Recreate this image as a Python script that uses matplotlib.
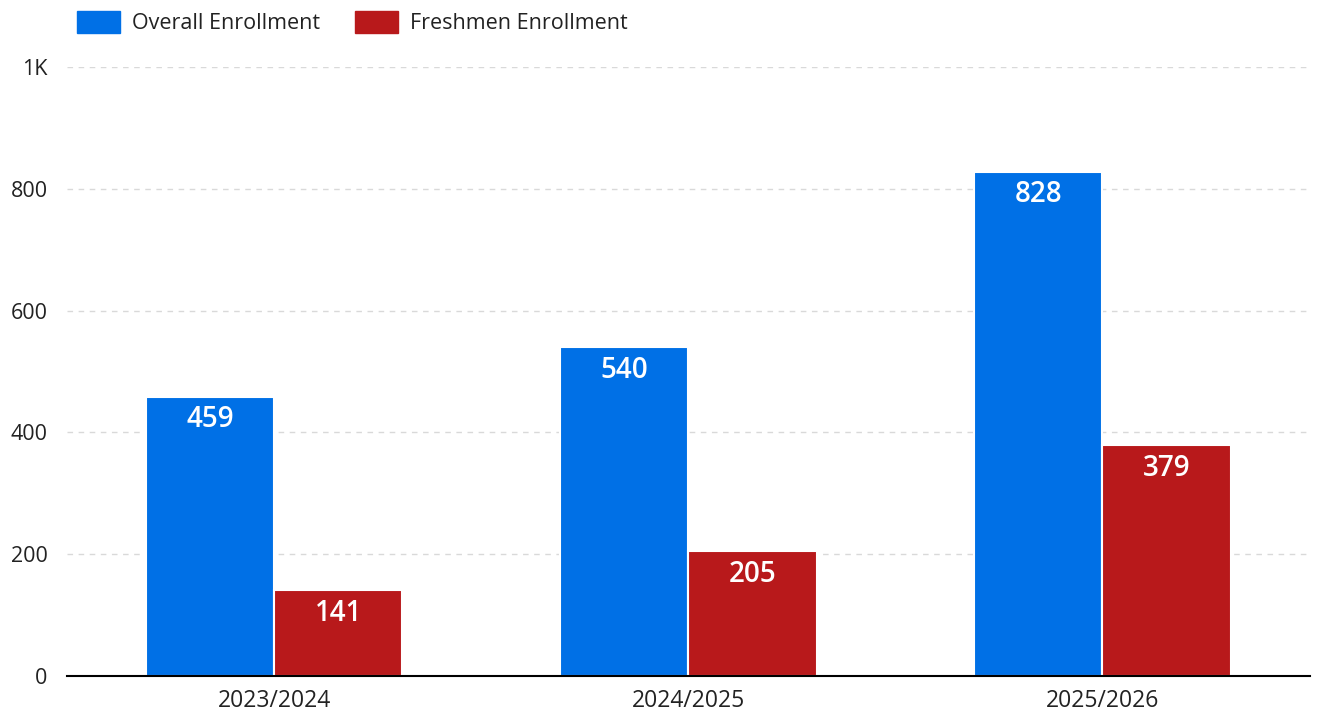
import matplotlib.pyplot as plt
import numpy as np
from matplotlib.patches import Patch
from matplotlib.ticker import FuncFormatter

plt.rcParams['font.family'] = ['Open Sans', 'Noto Sans', 'DejaVu Sans']

years = ['2023/2024', '2024/2025', '2025/2026']
overall = [459, 540, 828]
freshmen = [141, 205, 379]

blue = '#0070E6'
red = '#B8191B'


def fmt(v, pos):
    if v >= 1000:
        return '%dK' % (v / 1000)
    return '%d' % v


def main():
    fig = plt.figure(figsize=(13.18, 7.15), dpi=100)
    ax = fig.add_axes([0.0508, 0.0545, 0.9428, 0.8517])

    x = np.arange(len(years))
    w = 0.31
    b1 = ax.bar(x - w / 2, overall, w, color=blue, edgecolor='white', linewidth=1.5, zorder=3)
    b2 = ax.bar(x + w / 2, freshmen, w, color=red, edgecolor='white', linewidth=1.5, zorder=3)

    # value labels inside top of bars
    for bars, vals in ((b1, overall), (b2, freshmen)):
        for r, v in zip(bars, vals):
            ax.annotate(str(v), (r.get_x() + r.get_width() / 2, v), xytext=(0, -23),
                        textcoords='offset pixels', ha='center', va='center',
                        color='white', fontsize=20, fontweight='semibold', zorder=4)

    ax.set_xlim(-0.5, 2.5)
    ax.set_ylim(0, 1000)
    ax.set_yticks([0, 200, 400, 600, 800, 1000])
    ax.yaxis.set_major_formatter(FuncFormatter(fmt))
    ax.set_xticks(x)
    ax.set_xticklabels(years)
    ax.grid(axis='y', color='#D9D9D9', linestyle=(0, (4, 4)), linewidth=1, zorder=0)
    for s in ['top', 'right', 'left']:
        ax.spines[s].set_visible(False)
    ax.spines['bottom'].set_color('black')
    ax.spines['bottom'].set_linewidth(1.5)
    ax.spines['bottom'].set_zorder(5)
    ax.tick_params(axis='both', length=0, labelsize=15.5, colors='#222222')
    ax.tick_params(axis='y', pad=14)
    ax.tick_params(axis='x', pad=9, labelsize=16.5)

    handles = [Patch(color=blue, label='Overall Enrollment'),
               Patch(color=red, label='Freshmen Enrollment')]
    fig.legend(handles=handles, loc='upper left', bbox_to_anchor=(0.044, 1.012), ncol=2,
               frameon=False, fontsize=15.5, handlelength=2.0, handleheight=1.2,
               columnspacing=1.6, handletextpad=0.55, labelcolor='#222222')

    fig.savefig('out.png', dpi=100, facecolor='white')


if __name__ == '__main__':
    main()
